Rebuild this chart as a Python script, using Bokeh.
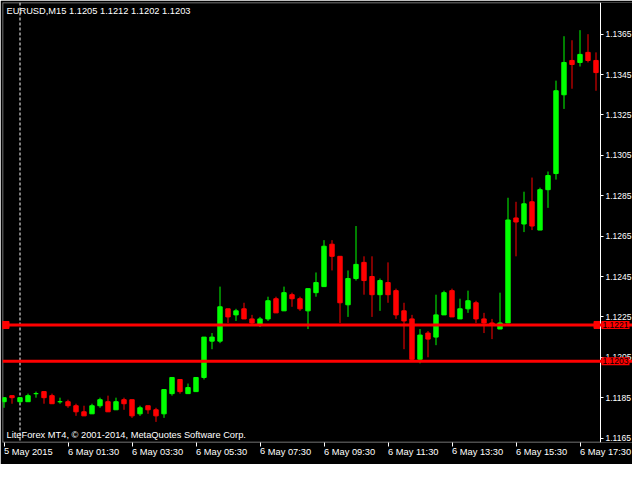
from bokeh.plotting import figure
from bokeh.models import (ColumnDataSource, Span, Label, FixedTicker, Range1d,
                          PrintfTickFormatter, BoxAnnotation)
from bokeh.embed import file_html
from bokeh.resources import INLINE

# ---------------- data ----------------
symbol = "EURUSD,M15"
header_ohlc = ["1.1205", "1.1212", "1.1202", "1.1203"]
copyright_text = "LiteForex MT4, \u00a9 2001-2014, MetaQuotes Software Corp."

opens = [1.1183, 1.1186, 1.1183, 1.1183, 1.1187, 1.1188, 1.1186, 1.1183, 1.1183, 1.1181,
         1.1178, 1.1177, 1.1181, 1.1183, 1.1179, 1.1184, 1.1184, 1.1177, 1.1181, 1.1179,
         1.1177, 1.1187, 1.1194, 1.1187, 1.1188, 1.1195, 1.1213, 1.1213, 1.1229, 1.1226,
         1.1229, 1.1224, 1.1221, 1.1224, 1.1234, 1.1228, 1.1236, 1.1234, 1.1228, 1.1237,
         1.1240, 1.1261, 1.1255, 1.1231, 1.1244, 1.1252, 1.1245, 1.1236, 1.1242, 1.1238,
         1.1228, 1.1224, 1.1204, 1.1217, 1.1215, 1.1226, 1.1238, 1.1224, 1.1229, 1.1232,
         1.1224, 1.1222, 1.1219, 1.1222, 1.1274, 1.1271, 1.1282, 1.1268, 1.1288, 1.1296,
         1.1335, 1.1352, 1.1351, 1.1356, 1.1352]
highs = [1.1185, 1.1186, 1.1185, 1.1187, 1.1188, 1.1188, 1.1187, 1.1185, 1.1184, 1.1182,
         1.1181, 1.1182, 1.1185, 1.1186, 1.1185, 1.1185, 1.1184, 1.1181, 1.1181, 1.1180,
         1.1189, 1.1195, 1.1194, 1.1192, 1.1195, 1.1215, 1.1217, 1.1240, 1.1229, 1.1229,
         1.1232, 1.1226, 1.1225, 1.1235, 1.1235, 1.1240, 1.1237, 1.1235, 1.1239, 1.1247,
         1.1263, 1.1263, 1.1255, 1.1248, 1.1270, 1.1255, 1.1255, 1.1244, 1.1252, 1.1239,
         1.1232, 1.1226, 1.1219, 1.1218, 1.1236, 1.1238, 1.1239, 1.1234, 1.1238, 1.1233,
         1.1227, 1.1224, 1.1237, 1.1284, 1.1282, 1.1287, 1.1294, 1.1289, 1.1297, 1.1342,
         1.1364, 1.1362, 1.1367, 1.1365, 1.1356]
lows = [1.1180, 1.1182, 1.1182, 1.1183, 1.1185, 1.1182, 1.1182, 1.1182, 1.1180, 1.1176,
        1.1176, 1.1177, 1.1180, 1.1178, 1.1179, 1.1179, 1.1175, 1.1176, 1.1177, 1.1173,
        1.1175, 1.1186, 1.1187, 1.1187, 1.1188, 1.1194, 1.1209, 1.1212, 1.1222, 1.1223,
        1.1224, 1.1221, 1.1220, 1.1223, 1.1227, 1.1228, 1.1230, 1.1228, 1.1219, 1.1235,
        1.1240, 1.1248, 1.1222, 1.1225, 1.1243, 1.1236, 1.1225, 1.1228, 1.1232, 1.1224,
        1.1209, 1.1203, 1.1202, 1.1205, 1.1211, 1.1226, 1.1225, 1.1224, 1.1227, 1.1222,
        1.1217, 1.1214, 1.1219, 1.1222, 1.1255, 1.1267, 1.1268, 1.1268, 1.1279, 1.1293,
        1.1328, 1.1338, 1.1349, 1.1351, 1.1337]
closes = [1.1185, 1.1185, 1.1185, 1.1186, 1.1187, 1.1185, 1.1182, 1.1183, 1.1181, 1.1178,
          1.1176, 1.1181, 1.1184, 1.1178, 1.1183, 1.1182, 1.1176, 1.1180, 1.1179, 1.1176,
          1.1189, 1.1195, 1.1188, 1.1190, 1.1195, 1.1215, 1.1215, 1.1230, 1.1225, 1.1228,
          1.1224, 1.1222, 1.1224, 1.1233, 1.1227, 1.1237, 1.1234, 1.1229, 1.1239, 1.1242,
          1.1260, 1.1255, 1.1232, 1.1244, 1.1251, 1.1243, 1.1236, 1.1243, 1.1236, 1.1226,
          1.1223, 1.1204, 1.1216, 1.1214, 1.1226, 1.1237, 1.1225, 1.1229, 1.1233, 1.1224,
          1.1222, 1.1221, 1.1222, 1.1273, 1.1272, 1.1281, 1.1270, 1.1288, 1.1295, 1.1337,
          1.1351, 1.1350, 1.1355, 1.1352, 1.1346]

time_label_bars = [0, 8, 16, 24, 32, 40, 48, 56, 64, 72]
time_labels = ["5 May 2015", "6 May 01:30", "6 May 03:30", "6 May 05:30", "6 May 07:30",
               "6 May 09:30", "6 May 11:30", "6 May 13:30", "6 May 15:30", "6 May 17:30"]
price_ticks = [1.1165, 1.1185, 1.1205, 1.1225, 1.1245, 1.1265, 1.1285, 1.1305, 1.1325, 1.1345, 1.1365]
level_lines = [1.1221, 1.1203]
level_labels = ["1.1221", "1.1203"]
day_separator_bar = 2

# ---------------- styles / layout ----------------
BULL = "#00FF00"
BEAR = "#FF0000"
FONT = "Liberation Sans"
FSIZE = "9.3px"
PSIZE = "8.5px"
W, H = 632, 464
BL, BT, BR, BB = 2, 2, 0, 21
FRAME_W = W - BL - BR
FRAME_H = H - BT - BB
CHART_W = 598            # width of the candle area; price scale sits to its right

n = len(opens)
idx = list(range(n))
colors = [BULL if c >= o else BEAR for o, c in zip(opens, closes)]
tops = [max(o, c) for o, c in zip(opens, closes)]
bottoms = [min(o, c) for o, c in zip(opens, closes)]
src = ColumnDataSource(dict(x=idx, o=opens, h=highs, l=lows, c=closes,
                            top=tops, bottom=bottoms, color=colors))

bar_px = 8.0
x_start = -1.5 / bar_px
x_end = x_start + FRAME_W / bar_px
axis_x = x_start + CHART_W / bar_px
y_start, y_end = 1.11628, 1.13807
y_px = FRAME_H / (y_end - y_start)

p = figure(width=W, height=H, output_backend="svg", toolbar_location=None,
           x_range=Range1d(x_start, x_end), y_range=Range1d(y_start, y_end),
           y_axis_location="right", min_border_left=BL, min_border_top=BT,
           min_border_right=BR, min_border_bottom=BB)
p.background_fill_color = "black"
p.border_fill_color = "black"
p.outline_line_color = None
p.xgrid.visible = False
p.ygrid.visible = False

for ax in (p.xaxis[0], p.yaxis[0]):
    ax.axis_line_color = "white"
    ax.major_tick_line_color = "white"
    ax.minor_tick_line_color = None
    ax.major_tick_in = 0
    ax.major_label_text_color = "white"
    ax.major_label_text_font = FONT

p.yaxis.fixed_location = axis_x
p.yaxis.ticker = FixedTicker(ticks=price_ticks)
p.yaxis.formatter = PrintfTickFormatter(format="%.4f")
p.yaxis.major_tick_out = 3
p.yaxis.major_label_standoff = 2
p.yaxis.major_label_text_font_size = PSIZE

p.xaxis.axis_line_color = None
p.xaxis.ticker = FixedTicker(ticks=time_label_bars)
p.xaxis.major_label_overrides = {b: t for b, t in zip(time_label_bars, time_labels)}
p.xaxis.major_tick_out = 4
p.xaxis.major_label_standoff = 5
p.xaxis.major_label_text_font_size = FSIZE
p.xaxis.major_label_orientation = -0.0001   # left-aligned labels starting at the tick

# chart border (candle area only)
p.add_layout(BoxAnnotation(left=x_start + 0.5 / bar_px, right=axis_x,
                           top=y_end - 0.5 / y_px, bottom=y_start + 0.5 / y_px,
                           fill_alpha=0, line_color="white", line_width=1, level="underlay"))

# day separator
p.add_layout(Span(location=day_separator_bar, dimension="height", line_color="white",
                  line_dash="3 2", line_width=1, level="underlay"))

# candles
p.segment(x0="x", y0="l", x1="x", y1="h", color="color", line_width=1, source=src)
p.vbar(x="x", width=0.55, top="top", bottom="bottom", fill_color="color",
       line_color="color", line_width=1, source=src)

# horizontal levels
for lv in level_lines:
    p.add_layout(Span(location=lv, dimension="width", line_color="#FF0000", line_width=3))

end_x = [x_start + 3 / bar_px, axis_x - 3 / bar_px]
p.scatter(x=end_x, y=[level_lines[0]] * 2, marker="square", size=7,
          fill_color="#FF0000", line_color="#FF0000")
p.scatter(x=end_x, y=[level_lines[0]] * 2, marker="square", size=1.5,
          fill_color="white", line_color=None)

# price tags on the price scale
for lv, txt in zip(level_lines, level_labels):
    p.add_layout(Label(x=axis_x, y=lv, x_offset=1, text=txt, text_baseline="middle",
                       text_color="black", text_font=FONT, text_font_size=PSIZE,
                       background_fill_color="#FF0000", padding=1, level="overlay"))

p.add_layout(Label(x=x_start, y=y_end, x_offset=4, y_offset=-3,
                   text=symbol + "  " + " ".join(header_ohlc), text_baseline="top",
                   text_color="white", text_font=FONT, text_font_size=FSIZE))
p.add_layout(Label(x=x_start, y=y_start, x_offset=4, y_offset=3,
                   text=copyright_text, text_baseline="bottom",
                   text_color="white", text_font=FONT, text_font_size=FSIZE))

open("out.html", "w").write(file_html(p, INLINE))
